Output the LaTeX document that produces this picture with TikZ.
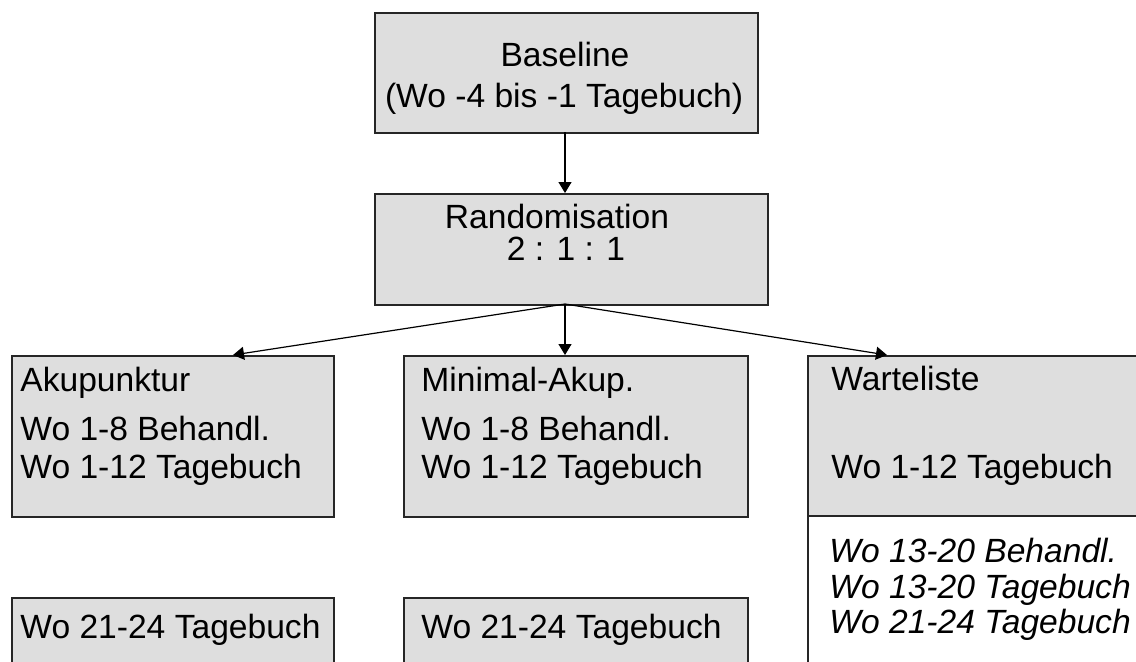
\documentclass[tikz,border=0pt]{standalone}
\usepackage{fontspec}
\setmainfont{Liberation Sans}
\usetikzlibrary{arrows.meta}
\begin{document}
\begin{tikzpicture}[x=0.5pt,y=-0.5pt,
  box/.style={draw=black!85,line width=0.75pt,fill=black!13,rectangle,anchor=north west,inner sep=0pt,minimum height=80.5pt},
  wbox/.style={box,fill=white},
  txt/.style={inner sep=0pt,font=\fontsize{16.8}{19}\selectfont},
  itxt/.style={txt,font=\fontsize{16.8}{19}\selectfont\itshape},
  arr/.style={line width=0.6pt,-{Triangle[length=5.5pt,width=6.5pt]}}]
\useasboundingbox (0,0) rectangle (1136,661);
% boxes
\node[box,minimum width=191.5pt,minimum height=60pt] (base) at (374,12) {};
\node[box,minimum width=196.5pt,minimum height=55.5pt] (rand) at (374,193) {};
\node[box,minimum width=161pt] (aku) at (11,355) {};
\node[box,minimum width=172pt] (min) at (403,355) {};
\node[wbox,minimum width=172.5pt,minimum height=80pt] (wlow) at (807,515) {};
\node[box,minimum width=172.5pt,minimum height=80pt] (wart) at (807,355) {};
\node[box,minimum width=161pt,minimum height=80pt] (aku2) at (11,597) {};
\node[box,minimum width=172pt,minimum height=80pt] (min2) at (403,597) {};
% texts
\node[txt,anchor=base] (t1) at (565,66) {Baseline};
\node[txt,anchor=base] (t2) at (564,107) {(Wo -4 bis -1 Tagebuch)};
\node[txt,anchor=base] (t3) at (557,228) {Randomisation};
\node[txt,anchor=base] (t4) at (566,260) {2 : 1 : 1};
\node[txt,anchor=base west] (a1) at (20,391) {Akupunktur};
\node[txt,anchor=base west] (a2) at (20,440) {Wo 1-8 Behandl.};
\node[txt,anchor=base west] (a3) at (20,478) {Wo 1-12 Tagebuch};
\node[txt,anchor=base west] (m1) at (421,391) {Minimal-Akup.};
\node[txt,anchor=base west] (m2) at (421,440) {Wo 1-8 Behandl.};
\node[txt,anchor=base west] (m3) at (421,478) {Wo 1-12 Tagebuch};
\node[txt,anchor=base west] (w1) at (831,390) {Warteliste};
\node[txt,anchor=base west] (w2) at (831,478) {Wo 1-12 Tagebuch};
\node[itxt,anchor=base west] (w3) at (829,562) {Wo 13-20 Behandl.};
\node[itxt,anchor=base west] (w4) at (829,598) {Wo 13-20 Tagebuch};
\node[itxt,anchor=base west] (w5) at (829,633) {Wo 21-24 Tagebuch};
\node[txt,anchor=base west] (a4) at (20,638) {Wo 21-24 Tagebuch};
\node[txt,anchor=base west] (m4) at (421,638) {Wo 21-24 Tagebuch};
% connector points
\coordinate (bs) at (565,132);
\coordinate (rt) at (565,193);
\coordinate (rs) at (565,304);
\coordinate (at) at (233,355);
\coordinate (mt) at (565,355);
\coordinate (wt) at (887,355);
\draw[arr] (bs) -- (rt);
\draw[arr] (rs) -- (at);
\draw[arr] (rs) -- (mt);
\draw[arr] (rs) -- (wt);
\end{tikzpicture}
\end{document}
